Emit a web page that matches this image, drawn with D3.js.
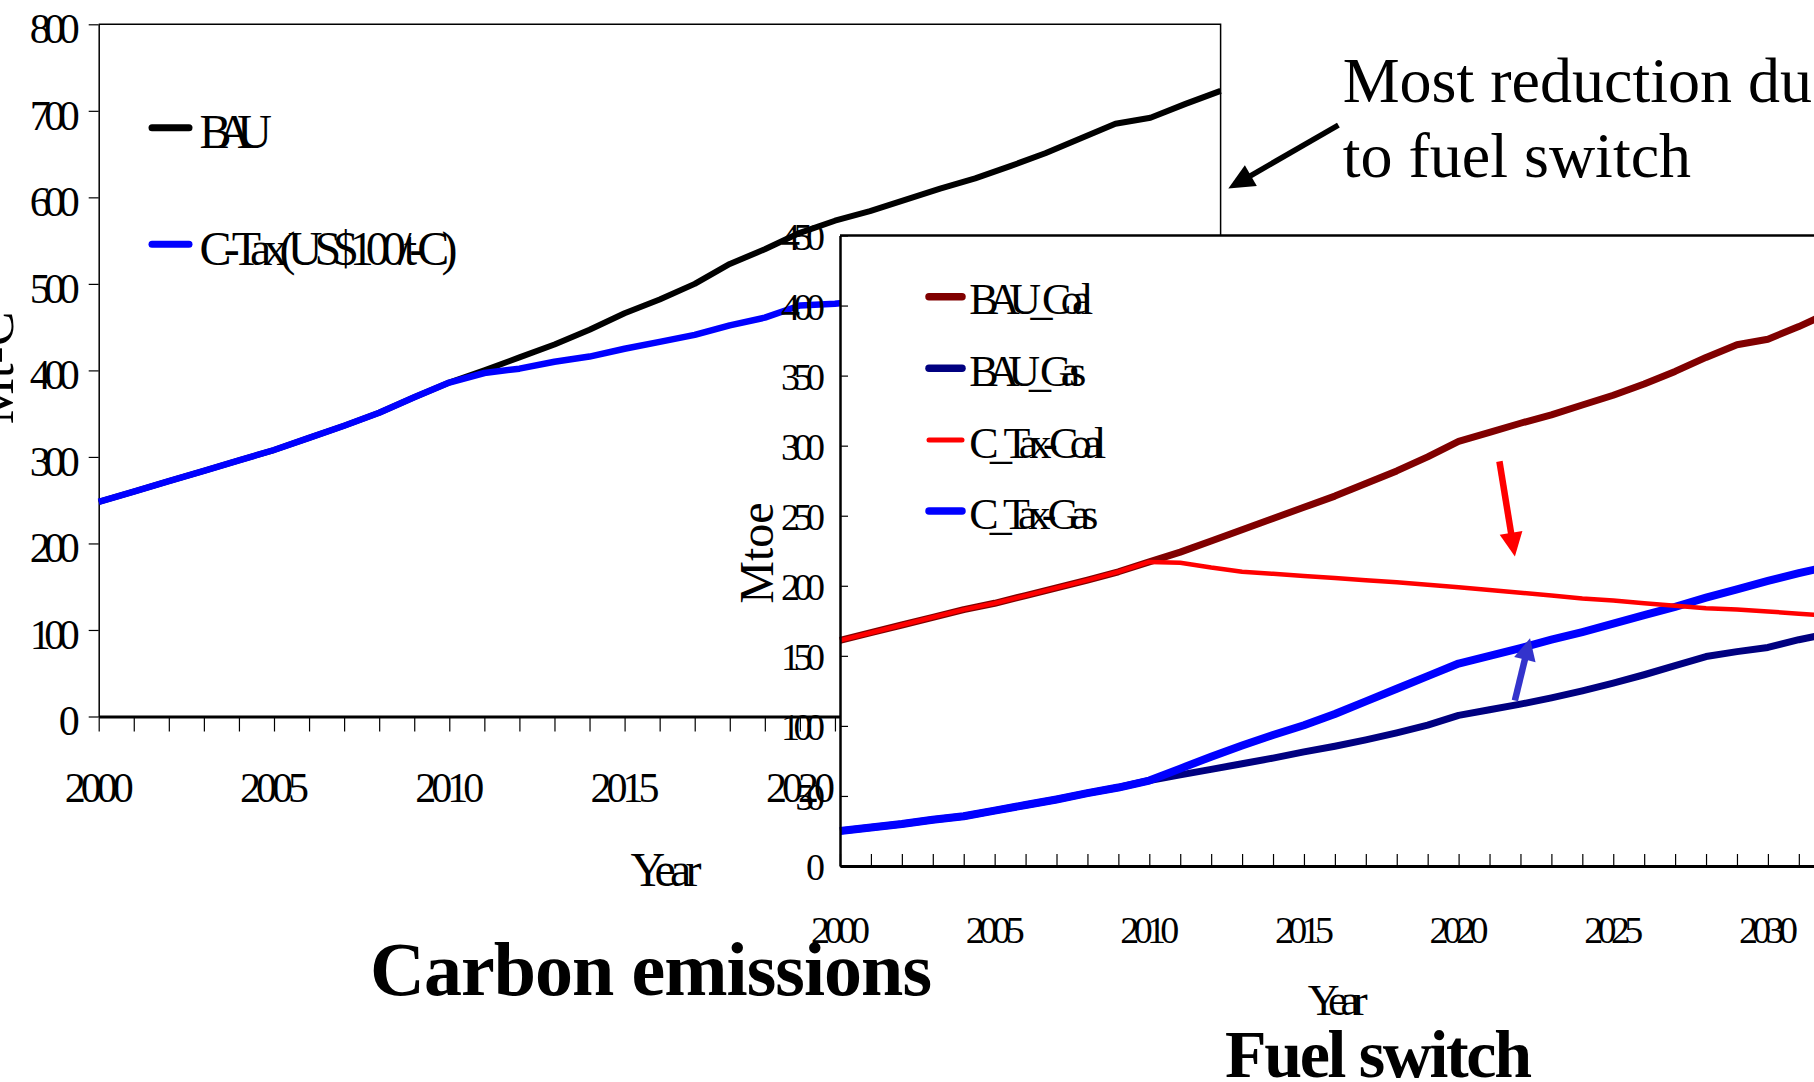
<!DOCTYPE html>
<html>
<head>
<meta charset="utf-8">
<script src="https://cdn.jsdelivr.net/npm/d3@7/dist/d3.min.js"></script>
<style>
  body { margin: 0; background: #fff; }
  svg { display: block; font-family: "Times New Roman", "Liberation Serif", serif; }
</style>
</head>
<body>
<svg id="chart" width="1814" height="1082"></svg>
<script>
// ---- data: carbon emissions (Mt-C) ----
var years = d3.range(2000, 2033);
var bauCarbon = [248, 260, 272, 284, 296, 308, 322, 336, 351, 369, 386,
    400, 415, 430, 447, 466, 482, 500, 523, 540, 559,
    573, 584, 597, 610, 622, 636, 651, 668, 685, 692, 708, 723];
// the tax run is hidden under the second chart after ~2021
var ctaxCarbon = [248, 260, 272, 284, 296, 308, 322, 336, 351, 369, 386,
    397, 402, 410, 416, 425, 433, 441, 452, 461, 475, 477, 481];

// ---- data: fuel switch (Mtoe) ----
var bauCoal = [161, 166.5, 172, 177.5, 183, 187.5, 193, 198.5, 204, 210, 217,
    224, 232, 240, 248, 256, 264, 273, 282, 292, 303,
    309.5, 316, 322, 329, 336, 344, 353, 363, 372, 376, 385, 395];
var bauGas = [25, 27.5, 30, 33, 35.5, 39.5, 43.5, 47.5, 52, 56, 61,
    65, 69, 73, 77, 81.5, 85.5, 90, 95, 100.5, 107.5,
    111.5, 115.5, 120, 125, 130.5, 136.5, 143, 149.5, 153, 156, 161.5, 166];
var ctaxCoal = [161, 166.5, 172, 177.5, 183, 187.5, 193, 198.5, 204, 210, 217,
    216.5, 213, 210, 208.5, 207, 205.5, 204, 202.5, 200.7, 199,
    197, 195, 193, 191, 189.5, 187.5, 185.7, 184, 183, 181.7, 180, 178.5];
var ctaxGas = [25, 27.5, 30, 33, 35.5, 39.5, 43.5, 47.5, 52, 56, 61,
    69.5, 78, 86, 93.5, 100.5, 108.5, 117.5, 126.5, 135.5, 144.5,
    150, 155.5, 161.5, 167, 173, 179, 185, 191.5, 197.5, 203.5, 209, 214];

var ticks1 = [0, 100, 200, 300, 400, 500, 600, 700, 800];
var ticks2 = [0, 50, 100, 150, 200, 250, 300, 350, 400, 450];

var series1 = [
    {name: "BAU", values: bauCarbon, color: "#000000", width: 6},
    {name: "C-Tax(US$100/t-C)", values: ctaxCarbon, color: "#0000ff", width: 6.5}
];
var series2 = [
    {name: "BAU_Coal", values: bauCoal, color: "#800000", width: 7},
    {name: "BAU_Gas", values: bauGas, color: "#000080", width: 7},
    {name: "C_Tax-Coal", values: ctaxCoal, color: "#ff0000", width: 4.5},
    {name: "C_Tax-Gas", values: ctaxGas, color: "#0000ff", width: 8}
];
// draw order (tax runs on top of BAU)
var drawOrder2 = [0, 1, 3, 2];

var svg = d3.select("#chart");
svg.append("rect").attr("width", 1814).attr("height", 1082).attr("fill", "#fff");

// ================= chart 1 : carbon emissions =================
var x1 = d3.scaleLinear().domain([2000, 2032]).range([98.7, 1220.6]);
var y1 = d3.scaleLinear().domain([0, 800]).range([716.5, 24.3]);
var g1 = svg.append("g");

// plot border (top / right)
g1.append("path")
    .attr("d", "M" + x1(2000) + "," + y1(800) + "H" + x1(2032) + "V" + y1(0))
    .attr("fill", "none").attr("stroke", "#000").attr("stroke-width", 1.5);

var yAxis1 = g1.append("g")
    .attr("transform", "translate(" + x1(2000) + ",0)")
    .call(d3.axisLeft(y1).tickValues(ticks1).tickSizeInner(10).tickSizeOuter(0).tickPadding(9));
yAxis1.select(".domain").attr("stroke-width", 1.5);
yAxis1.selectAll("line").attr("stroke-width", 1.2);
yAxis1.selectAll("text")
    .attr("font-size", 42).attr("font-family", "Times New Roman, Liberation Serif, serif")
    .attr("fill", "#000").attr("dy", "0.44em")
    .attr("textLength", function(d) { return d >= 100 ? 50 : null; })
    .attr("lengthAdjust", "spacing");

var xAxis1 = g1.append("g")
    .attr("transform", "translate(0," + y1(0) + ")")
    .call(d3.axisBottom(x1).tickValues(years).tickSizeInner(15).tickSizeOuter(0)
        .tickFormat(function(d) { return d % 5 === 0 ? String(d) : ""; }));
xAxis1.select(".domain").attr("stroke-width", 3);
xAxis1.selectAll("line").attr("stroke-width", 1.2);
xAxis1.selectAll("text")
    .attr("font-size", 42).attr("font-family", "Times New Roman, Liberation Serif, serif")
    .attr("fill", "#000").attr("y", 85.5).attr("dy", null)
    .attr("textLength", function(d) { return d % 5 === 0 ? 69 : null; })
    .attr("lengthAdjust", "spacing");

var line1 = d3.line()
    .x(function(d, i) { return x1(years[i]); })
    .y(function(d) { return y1(d); });

g1.selectAll(".line1").data(series1).enter().append("path")
    .attr("class", "line1")
    .attr("d", function(s) { return line1(s.values); })
    .attr("fill", "none")
    .attr("stroke", function(s) { return s.color; })
    .attr("stroke-width", function(s) { return s.width; })
    .attr("stroke-linejoin", "round");

// legend 1
var legRows1 = [127.7, 244.3];
var legWidths1 = [72.5, 258];
var leg1 = g1.selectAll(".leg1").data(series1).enter().append("g").attr("class", "leg1")
    .attr("transform", function(s, i) { return "translate(0," + legRows1[i] + ")"; });
leg1.append("line").attr("x1", 152).attr("x2", 189).attr("y1", 0).attr("y2", 0)
    .attr("stroke", function(s) { return s.color; }).attr("stroke-width", 7)
    .attr("stroke-linecap", "round");
leg1.append("text").attr("x", 199.5).attr("y", 20.6)
    .attr("font-size", 48)
    .attr("textLength", function(s, i) { return legWidths1[i]; })
    .attr("lengthAdjust", "spacing")
    .text(function(s) { return s.name; });

g1.append("text")
    .attr("transform", "translate(13,368) rotate(-90)")
    .attr("text-anchor", "middle").attr("font-size", 52)
    .text("Mt-C");
g1.append("text").attr("x", 666).attr("y", 886)
    .attr("text-anchor", "middle").attr("font-size", 48)
    .attr("textLength", 71).attr("lengthAdjust", "spacing")
    .text("Year");

// ================= chart 2 : fuel switch =================
var x2 = d3.scaleLinear().domain([2000, 2032]).range([840, 840 + 32 * 30.93]);
var y2 = d3.scaleLinear().domain([0, 450]).range([866, 235.5]);
var g2 = svg.append("g");

g2.append("rect")
    .attr("x", x2(2000)).attr("y", y2(450))
    .attr("width", 1814 - x2(2000) + 10).attr("height", y2(0) - y2(450))
    .attr("fill", "#fff");
g2.append("line")
    .attr("x1", x2(2000)).attr("x2", 1820).attr("y1", y2(450)).attr("y2", y2(450))
    .attr("stroke", "#000").attr("stroke-width", 2.5);

var line2 = d3.line()
    .x(function(d, i) { return x2(years[i]); })
    .y(function(d) { return y2(d); });

g2.selectAll(".line2").data(drawOrder2.map(function(i) { return series2[i]; }))
    .enter().append("path")
    .attr("class", "line2")
    .attr("d", function(s) { return line2(s.values); })
    .attr("fill", "none")
    .attr("stroke", function(s) { return s.color; })
    .attr("stroke-width", function(s) { return s.width; })
    .attr("stroke-linejoin", "round");

var yAxis2 = g2.append("g")
    .attr("transform", "translate(" + x2(2000) + ",0)")
    .call(d3.axisLeft(y2).tickValues(ticks2).tickSizeInner(-8).tickSizeOuter(0).tickPadding(15));
yAxis2.select(".domain").attr("stroke-width", 2.5);
yAxis2.selectAll("line").attr("stroke-width", 1.2);
yAxis2.selectAll("text")
    .attr("font-size", 38).attr("font-family", "Times New Roman, Liberation Serif, serif")
    .attr("fill", "#000").attr("dy", "0.36em")
    .attr("textLength", function(d) { return d >= 100 ? 44 : (d >= 10 ? 30 : null); })
    .attr("lengthAdjust", "spacing");

var xAxis2 = g2.append("g")
    .attr("transform", "translate(0," + y2(0) + ")")
    .call(d3.axisBottom(x2).tickValues(years).tickSizeInner(-12).tickSizeOuter(0)
        .tickFormat(function(d) { return d % 5 === 0 ? String(d) : ""; }));
xAxis2.select(".domain").attr("stroke-width", 3);
xAxis2.selectAll("line").attr("stroke-width", 1.2);
xAxis2.selectAll("text")
    .attr("font-size", 38).attr("font-family", "Times New Roman, Liberation Serif, serif")
    .attr("fill", "#000").attr("y", 77).attr("dy", null)
    .attr("textLength", function(d) { return d % 5 === 0 ? 59 : null; })
    .attr("lengthAdjust", "spacing");

// legend 2
var legRows2 = [296.7, 368.3, 440, 511];
var legWidths2 = [124, 117, 137, 129];
var leg2 = g2.selectAll(".leg2").data(series2).enter().append("g").attr("class", "leg2")
    .attr("transform", function(s, i) { return "translate(0," + legRows2[i] + ")"; });
leg2.append("line").attr("x1", 929).attr("x2", 962).attr("y1", 0).attr("y2", 0)
    .attr("stroke", function(s) { return s.color; })
    .attr("stroke-width", function(s) { return s.width === 4.5 ? 5 : 7.5; })
    .attr("stroke-linecap", "round");
leg2.append("text").attr("x", 969.3).attr("y", 17.5)
    .attr("font-size", 44)
    .attr("textLength", function(s, i) { return legWidths2[i]; })
    .attr("lengthAdjust", "spacing")
    .text(function(s) { return s.name; });

g2.append("text")
    .attr("transform", "translate(773,553) rotate(-90)")
    .attr("text-anchor", "middle").attr("font-size", 48)
    .text("Mtoe");
g2.append("text").attr("x", 1337.7).attr("y", 1015)
    .attr("text-anchor", "middle").attr("font-size", 44)
    .attr("textLength", 60).attr("lengthAdjust", "spacing")
    .text("Year");

// ================= annotations =================
function arrow(g, p0, p1, color, w, headLen, headW) {
    var dx = p1[0] - p0[0], dy = p1[1] - p0[1];
    var len = Math.sqrt(dx * dx + dy * dy);
    var ux = dx / len, uy = dy / len;
    var bx = p1[0] - ux * headLen, by = p1[1] - uy * headLen;
    g.append("line")
        .attr("x1", p0[0]).attr("y1", p0[1]).attr("x2", bx + ux * 2).attr("y2", by + uy * 2)
        .attr("stroke", color).attr("stroke-width", w);
    g.append("path")
        .attr("d", "M" + p1[0] + "," + p1[1] +
            "L" + (bx - uy * headW / 2) + "," + (by + ux * headW / 2) +
            "L" + (bx + uy * headW / 2) + "," + (by - ux * headW / 2) + "Z")
        .attr("fill", color);
}

// arrow ends in data units of the chart they point into
var redArrow = [[2021.32, 288.8], [2021.82, 220.9]];
var blueArrow = [[2021.82, 118.1], [2022.31, 162.6]];
var blackArrow = [[2035.36, 683.4], [2032.22, 610.2]];

var ga = svg.append("g");
arrow(ga, [x2(redArrow[0][0]), y2(redArrow[0][1])], [x2(redArrow[1][0]), y2(redArrow[1][1])], "#ff0000", 6.5, 24, 23);
arrow(ga, [x2(blueArrow[0][0]), y2(blueArrow[0][1])], [x2(blueArrow[1][0]), y2(blueArrow[1][1])], "#3333cc", 6.5, 22, 22);
arrow(ga, [x1(blackArrow[0][0]), y1(blackArrow[0][1])], [x1(blackArrow[1][0]), y1(blackArrow[1][1])], "#000", 5.5, 26, 24);

ga.append("text").attr("x", 1342.7).attr("y", 101.7).attr("font-size", 64)
    .text("Most reduction due");
ga.append("text").attr("x", 1342.7).attr("y", 176.7).attr("font-size", 64)
    .text("to fuel switch");

ga.append("text").attr("x", 370).attr("y", 995)
    .attr("font-size", 76).attr("font-weight", "bold")
    .attr("textLength", 562).attr("lengthAdjust", "spacing")
    .text("Carbon emissions");
ga.append("text").attr("x", 1225).attr("y", 1077)
    .attr("font-size", 68).attr("font-weight", "bold")
    .attr("textLength", 307).attr("lengthAdjust", "spacing")
    .text("Fuel switch");
</script>
</body>
</html>
